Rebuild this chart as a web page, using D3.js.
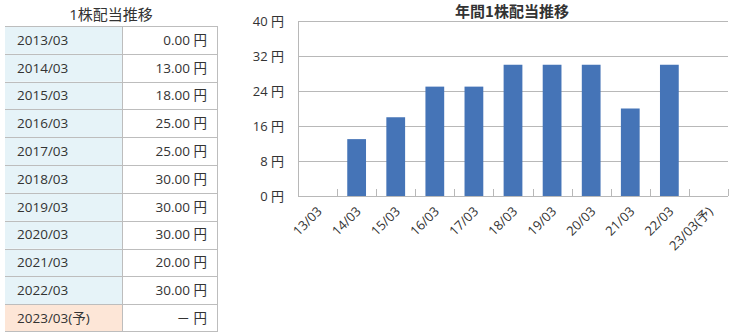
<!DOCTYPE html>
<html>
<head>
<meta charset="utf-8">
<script src="https://cdn.jsdelivr.net/npm/d3@7"></script>
<style>
  body { margin: 0; background: #fff; }
  svg { display: block; font-family: "Open Sans", "Noto Sans CJK JP", sans-serif; }
</style>
</head>
<body>
<div id="chart"></div>
<script>
// table data
const periods = ['2013/03', '2014/03', '2015/03', '2016/03', '2017/03', '2018/03',
  '2019/03', '2020/03', '2021/03', '2022/03', '2023/03(予)'];
const dividends = [0, 13, 18, 25, 25, 30, 30, 30, 20, 30, null];
// chart data
const shortLabels = ['13/03', '14/03', '15/03', '16/03', '17/03', '18/03',
  '19/03', '20/03', '21/03', '22/03', '23/03(予)'];
const yTicks = [0, 8, 16, 24, 32, 40];

const W = 735, H = 334;
const FONT = '"Open Sans", "Noto Sans CJK JP", sans-serif';
const svg = d3.select('#chart').append('svg').attr('width', W).attr('height', H);

/* ---- table ---- */
const tLeft = 5, tMid = 122, tRight = 217;
const rowY = d3.scaleBand().domain(periods).range([26, 332]);

svg.append('text')
  .attr('x', (tLeft + tRight) / 2).attr('y', 20)
  .attr('text-anchor', 'middle')
  .attr('font-size', 15).attr('fill', '#333')
  .text('1株配当推移');

const rows = svg.append('g').selectAll('g').data(periods).enter().append('g')
  .attr('transform', d => `translate(0,${rowY(d)})`);

rows.append('rect')
  .attr('x', tLeft).attr('width', tMid - tLeft).attr('height', rowY.bandwidth())
  .attr('fill', (d, i) => i === periods.length - 1 ? '#fde6d7' : '#e6f3f8');

rows.append('text')
  .attr('x', 17).attr('y', rowY.bandwidth() / 2 + 4.8)
  .attr('font-size', 13.5).attr('fill', '#333')
  .text(d => d);

rows.append('text')
  .attr('x', 207).attr('y', rowY.bandwidth() / 2 + 4.8)
  .attr('text-anchor', 'end')
  .attr('font-size', 13.5).attr('fill', '#333')
  .text((d, i) => dividends[i] === null ? '－ 円' : d3.format('.2f')(dividends[i]) + ' 円');

// borders
const lines = svg.append('g').attr('stroke', '#bdbdbd').attr('stroke-width', 1);
periods.forEach(p => {
  lines.append('line').attr('x1', tLeft).attr('x2', tRight)
    .attr('y1', Math.round(rowY(p)) + 0.5).attr('y2', Math.round(rowY(p)) + 0.5);
});
lines.append('line').attr('x1', tLeft).attr('x2', tRight).attr('y1', 331.5).attr('y2', 331.5);
lines.append('line').attr('x1', tMid + 0.5).attr('x2', tMid + 0.5).attr('y1', 26).attr('y2', 332);
lines.append('line').attr('x1', tRight + 0.5).attr('x2', tRight + 0.5).attr('y1', 26).attr('y2', 332);

/* ---- bar chart ---- */
const pL = 298, pR = 728, pT = 21, pB = 196;
const x = d3.scaleBand().domain(shortLabels).range([pL, pR]).paddingInner(0.52).paddingOuter(0.26);
const y = d3.scaleLinear().domain([0, 40]).range([pB, pT]);

svg.append('text')
  .attr('x', 512).attr('y', 17)
  .attr('text-anchor', 'middle')
  .attr('font-family', '"Noto Sans CJK JP", sans-serif')
  .attr('font-size', 15).attr('font-weight', 'bold').attr('fill', '#333')
  .text('年間1株配当推移');

// gridlines
svg.append('g').selectAll('line').data(yTicks.filter(d => d > 0)).enter().append('line')
  .attr('x1', pL).attr('x2', pR)
  .attr('y1', d => Math.round(y(d)) + 0.5).attr('y2', d => Math.round(y(d)) + 0.5)
  .attr('stroke', '#b8b8b8');

// y axis labels
svg.append('g').selectAll('text').data(yTicks).enter().append('text')
  .attr('x', 284).attr('y', d => y(d) + 4.5)
  .attr('text-anchor', 'end')
  .attr('font-size', 13).attr('fill', '#333')
  .text(d => d + ' 円');

// bars
svg.append('g').selectAll('rect').data(shortLabels).enter().append('rect')
  .filter((d, i) => dividends[i] !== null && dividends[i] > 0)
  .attr('x', d => x(d))
  .attr('width', x.bandwidth())
  .attr('y', d => y(dividends[shortLabels.indexOf(d)]))
  .attr('height', d => pB - y(dividends[shortLabels.indexOf(d)]))
  .attr('fill', '#4574b7');

// axes
const step = x.step();
const xAxis = d3.axisBottom(x).tickSize(0).tickFormat(d => d);
const gx = svg.append('g').attr('transform', `translate(0,${pB})`).call(xAxis);
gx.select('.domain').remove();
gx.selectAll('text')
  .attr('font-size', 13).attr('fill', '#333')
  .attr('font-family', FONT)
  .attr('text-anchor', 'end')
  .attr('x', 0).attr('y', 0).attr('dy', '0.35em')
  .attr('transform', 'translate(2,13) rotate(-45)');

const axisG = svg.append('g').attr('stroke', '#b8b8b8');
axisG.append('line').attr('x1', pL).attr('x2', pR).attr('y1', pB + 0.5).attr('y2', pB + 0.5);
axisG.append('line').attr('x1', pL + 0.5).attr('x2', pL + 0.5).attr('y1', pT).attr('y2', pB);
// category boundary ticks
d3.range(shortLabels.length + 1).forEach(i => {
  const tx = Math.round(pL + i * step) + 0.5;
  axisG.append('line').attr('x1', tx).attr('x2', tx).attr('y1', pB - 7).attr('y2', pB);
});
</script>
</body>
</html>
